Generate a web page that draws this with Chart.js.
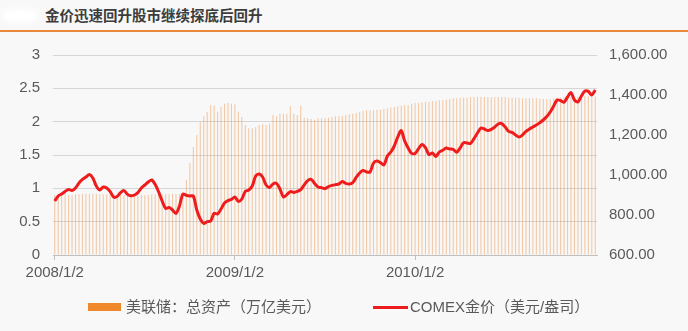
<!DOCTYPE html>
<html>
<head>
<meta charset="utf-8">
<script src="https://cdn.jsdelivr.net/npm/chart.js@4.4.1/dist/chart.umd.min.js"></script>
<style>
  html, body { margin: 0; padding: 0; background: #f8f8f8; }
  #wrap { position: relative; width: 688px; height: 331px; overflow: hidden; }
  #logo { position: absolute; left: 2px; top: 9px; width: 36px; height: 13px; background: #fff; border-radius: 7px; filter: blur(3px); }
  #title { position: absolute; left: 45px; top: 6px; font: bold 14.5px "Noto Sans CJK SC", sans-serif; color: #3c3c3c; line-height: 18px; }
  #rule { position: absolute; left: 0; top: 30px; width: 688px; height: 2px; background: #e9873a; }
  #box { position: absolute; left: 0; top: 0; width: 688px; height: 331px; }
  .lg { position: absolute; top: 298px; height: 18px; font: 15px "Liberation Sans", "Noto Sans CJK SC", sans-serif; color: #595959; line-height: 18px; white-space: nowrap; }
  .sw { position: absolute; }
</style>
</head>
<body>
<div id="wrap">
  <div id="logo"></div>
  <div id="title">金价迅速回升股市继续探底后回升</div>
  <div id="rule"></div>
  <div id="box"><canvas id="chart"></canvas></div>
  <div class="sw" style="left:88px;top:303px;width:33px;height:8px;background:#f0892c;"></div>
  <div class="lg" style="left:126px;" id="lg0"></div>
  <div class="sw" style="left:373px;top:306px;width:35px;height:3px;background:#ee1c1c;"></div>
  <div class="lg" style="left:410px;" id="lg1"></div>
</div>
<script>
// series names
const seriesNames = ['美联储：总资产（万亿美元）', 'COMEX金价（美元/盎司）'];

// x tick labels (weekly data, one label per year)
const xTickLabels = ['2008/1/2', '2009/1/2', '2010/1/2'];
const xTickIndex = [0, 52, 104];

// Fed total assets, trillion USD (weekly)
const fedAssets = [
  0.90, 0.90, 0.91, 0.91, 0.90, 0.90, 0.91, 0.91, 0.92, 0.92,
  0.92, 0.92, 0.92, 0.91, 0.91, 0.91, 0.91, 0.91, 0.90, 0.90,
  0.90, 0.89, 0.89, 0.89, 0.89, 0.90, 0.90, 0.90, 0.91, 0.91,
  0.91, 0.91, 0.91, 0.91, 0.92, 0.92, 0.92,
  0.93, 1.13, 1.38, 1.62, 1.80, 2.00, 2.08, 2.15, 2.25, 2.24,
  2.15, 2.22, 2.27, 2.28, 2.27, 2.26, 2.15, 2.07, 1.95, 1.90,
  1.90, 1.92, 1.95, 1.96, 1.95, 1.97, 2.10, 2.08, 2.12, 2.12,
  2.12, 2.23, 2.12, 2.10, 2.24, 2.06, 2.05, 2.04, 2.03, 2.05,
  2.05, 2.05, 2.06, 2.07, 2.08, 2.08, 2.09, 2.10, 2.11, 2.12,
  2.13, 2.15, 2.16, 2.17, 2.17, 2.17, 2.18, 2.18, 2.19, 2.20,
  2.21, 2.22, 2.23, 2.24, 2.25, 2.25, 2.27, 2.28, 2.28, 2.29,
  2.30, 2.30, 2.31, 2.31, 2.32, 2.32, 2.33, 2.34, 2.35, 2.35,
  2.36, 2.36, 2.36, 2.37, 2.37, 2.37, 2.37, 2.37, 2.37, 2.37,
  2.37, 2.37, 2.37, 2.37, 2.36, 2.36, 2.36, 2.36, 2.35, 2.35,
  2.35, 2.35, 2.35, 2.34, 2.34, 2.34, 2.34, 2.35, 2.36, 2.36,
  2.37, 2.37, 2.37, 2.37, 2.37, 2.38, 2.38, 2.38, 2.38, 2.38
];

// COMEX gold, USD/oz (weekly)
const goldPrice = [
  870, 895, 905, 918, 928, 922, 935, 960, 978, 990,
  1002, 985, 945, 925, 940, 935, 917, 890, 892, 912,
  922, 903, 896, 900, 912, 935, 950, 965, 975, 952,
  915, 870, 833, 838, 825, 808, 845, 905, 898, 895,
  895, 825, 780, 758, 767, 770, 808, 805, 830, 860,
  872, 878, 890, 868, 880, 918, 925, 945, 995, 1005,
  990, 950, 938, 955, 958, 930, 890, 902, 917, 913,
  918, 927, 950, 972, 978, 958, 940, 937, 932, 942,
  948, 952, 955, 967, 958, 955, 962, 988, 1010, 1022,
  1015, 1015, 1060, 1070, 1062, 1050, 1095, 1115, 1145, 1190,
  1222, 1170, 1135, 1108, 1108, 1132, 1153, 1137, 1102, 1110,
  1093, 1115, 1124, 1135, 1130, 1128, 1114, 1135, 1162, 1160,
  1158, 1182, 1210, 1235, 1230, 1222, 1228, 1240, 1255, 1257,
  1240, 1218, 1213, 1200, 1190, 1200, 1218, 1230, 1240, 1250,
  1262, 1275, 1292, 1315, 1345, 1375, 1372, 1364, 1390, 1412,
  1375, 1365, 1395, 1420, 1418, 1400, 1425
];

// weekly category labels
const weeks = [];
const start = new Date(2008, 0, 2);
for (let i = 0; i < goldPrice.length; i++) {
  const d = new Date(start.getTime() + i * 7 * 86400000);
  weeks.push(d.getFullYear() + '/' + (d.getMonth() + 1) + '/' + d.getDate());
}

document.getElementById('lg0').textContent = seriesNames[0];
document.getElementById('lg1').textContent = seriesNames[1];

const FONT = "'Liberation Sans', 'Noto Sans CJK SC', sans-serif";
const tickColor = '#595959';

new Chart(document.getElementById('chart'), {
  type: 'bar',
  data: {
    labels: weeks,
    datasets: [
      {
        type: 'bar',
        label: seriesNames[0],
        data: fedAssets,
        yAxisID: 'y',
        backgroundColor: 'rgba(236, 140, 60, 0.45)',
        barPercentage: 0.3,
        categoryPercentage: 1,
        order: 2
      },
      {
        type: 'line',
        label: seriesNames[1],
        data: goldPrice,
        yAxisID: 'y1',
        borderColor: '#ee1c1c',
        borderWidth: 3,
        pointRadius: 0,
        tension: 0.3,
        order: 1
      }
    ]
  },
  options: {
    responsive: true,
    maintainAspectRatio: false,
    animation: false,
    layout: { padding: { top: 55, left: 0, right: 0, bottom: 0 } },
    plugins: {
      legend: { display: false },
      tooltip: { enabled: false }
    },
    scales: {
      x: {
        afterFit(scale) { scale.height = 76; },
        grid: { display: true, drawOnChartArea: false, drawTicks: true, tickLength: 5, offset: false, color: '#bfbfbf' },
        border: { display: true, color: '#bfbfbf' },
        ticks: {
          autoSkip: false,
          maxRotation: 0,
          padding: 4,
          color: tickColor,
          font: { family: FONT, size: 15 },
          callback(v, i) {
            const k = xTickIndex.indexOf(i);
            return k >= 0 ? xTickLabels[k] : null;
          }
        }
      },
      y: {
        position: 'left',
        min: 0,
        max: 3,
        afterFit(scale) { scale.width = 53; },
        grid: { color: '#d6d6d6', drawTicks: false },
        border: { display: false },
        ticks: {
          stepSize: 0.5,
          padding: 13,
          color: tickColor,
          font: { family: FONT, size: 15 },
          callback(v) { return String(v); }
        }
      },
      y1: {
        position: 'right',
        min: 600,
        max: 1600,
        afterFit(scale) { scale.width = 91; },
        grid: { drawOnChartArea: false, drawTicks: false },
        border: { display: false },
        ticks: {
          stepSize: 200,
          padding: 12,
          color: tickColor,
          font: { family: FONT, size: 15 },
          callback(v) {
            return v.toLocaleString('en-US', { minimumFractionDigits: 2, maximumFractionDigits: 2 });
          }
        }
      }
    }
  }
});
</script>
</body>
</html>
